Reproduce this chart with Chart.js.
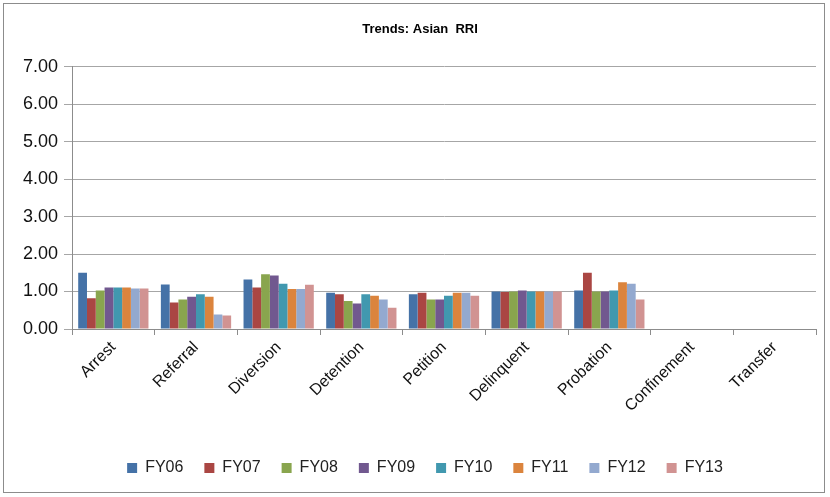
<!DOCTYPE html>
<html>
<head>
<meta charset="utf-8">
<script src="https://cdn.jsdelivr.net/npm/chart.js@4/dist/chart.umd.min.js"></script>
<style>
  html, body { margin: 0; padding: 0; background: #fff; }
  #wrap { position: absolute; left: 3px; top: 3px; width: 822px; height: 490px; border: 1px solid #8c8c8c; box-sizing: border-box; }
  #chart { position: absolute; left: 0; top: 0; }
</style>
</head>
<body>
<div id="wrap"><canvas id="chart" width="820" height="488"></canvas></div>
<script>
const categories = ['Arrest', 'Referral', 'Diversion', 'Detention', 'Petition', 'Delinquent', 'Probation', 'Confinement', 'Transfer'];
const years = ['FY06', 'FY07', 'FY08', 'FY09', 'FY10', 'FY11', 'FY12', 'FY13'];
const colors = ['#4572a7', '#aa4643', '#89a54e', '#71588f', '#4198af', '#db843d', '#93a9cf', '#d19392'];

// one value per category, same order as categories (null = no data)
const fy06 = [1.50, 1.19, 1.32, 0.97, 0.93, 1.00, 1.03, null, null];
const fy07 = [0.82, 0.71, 1.11, 0.93, 0.97, 0.99, 1.50, null, null];
const fy08 = [1.03, 0.79, 1.46, 0.75, 0.79, 1.00, 1.00, null, null];
const fy09 = [1.11, 0.86, 1.43, 0.68, 0.79, 1.03, 1.00, null, null];
const fy10 = [1.11, 0.93, 1.21, 0.93, 0.89, 1.00, 1.03, null, null];
const fy11 = [1.11, 0.86, 1.07, 0.89, 0.97, 1.00, 1.25, null, null];
const fy12 = [1.08, 0.39, 1.07, 0.79, 0.97, 1.00, 1.21, null, null];
const fy13 = [1.08, 0.36, 1.18, 0.57, 0.89, 1.00, 0.79, null, null];
const series = [fy06, fy07, fy08, fy09, fy10, fy11, fy12, fy13];

const font = "'Liberation Sans', sans-serif";

// nudge title and legend a little to the right after layout
const nudge = {
  id: 'nudge',
  afterLayout(chart) {
    chart.legend.left += 15; chart.legend.right += 15;
    chart.titleBlock.left += 10; chart.titleBlock.right += 10;
  }
};

new Chart(document.getElementById('chart'), {
  type: 'bar',
  data: {
    labels: categories,
    datasets: series.map((vals, i) => ({
      label: years[i],
      data: vals,
      backgroundColor: colors[i],
      categoryPercentage: 0.85,
      barPercentage: 1.0
    }))
  },
  plugins: [nudge],
  options: {
    responsive: false,
    animation: false,
    layout: { padding: { top: 0, right: 8, left: 0, bottom: 6 } },
    plugins: {
      title: {
        display: true,
        text: 'Trends: Asian  RRI',
        color: '#000',
        font: { family: font, size: 13, weight: 'bold' },
        padding: { top: 18, bottom: 29 }
      },
      legend: {
        position: 'bottom',
        labels: {
          boxWidth: 10, boxHeight: 10,
          color: '#222',
          font: { family: font, size: 16 },
          padding: 21
        }
      },
      tooltip: { enabled: false }
    },
    scales: {
      x: {
        afterFit: s => { s.height = 110; },
        grid: { display: true, drawOnChartArea: false, offset: true, color: '#8c8c8c', tickLength: 6 },
        border: { color: '#8c8c8c' },
        ticks: {
          color: '#111',
          font: { family: font, size: 16 },
          maxRotation: 45, minRotation: 45
        }
      },
      y: {
        min: 0, max: 7,
        afterFit: s => { s.width = 68; },
        grid: { color: '#a6a6a6', tickLength: 8 },
        border: { color: '#8c8c8c' },
        ticks: {
          stepSize: 1,
          padding: 6,
          color: '#111',
          font: { family: font, size: 18 },
          callback: v => v.toFixed(2)
        }
      }
    }
  }
});
</script>
</body>
</html>
